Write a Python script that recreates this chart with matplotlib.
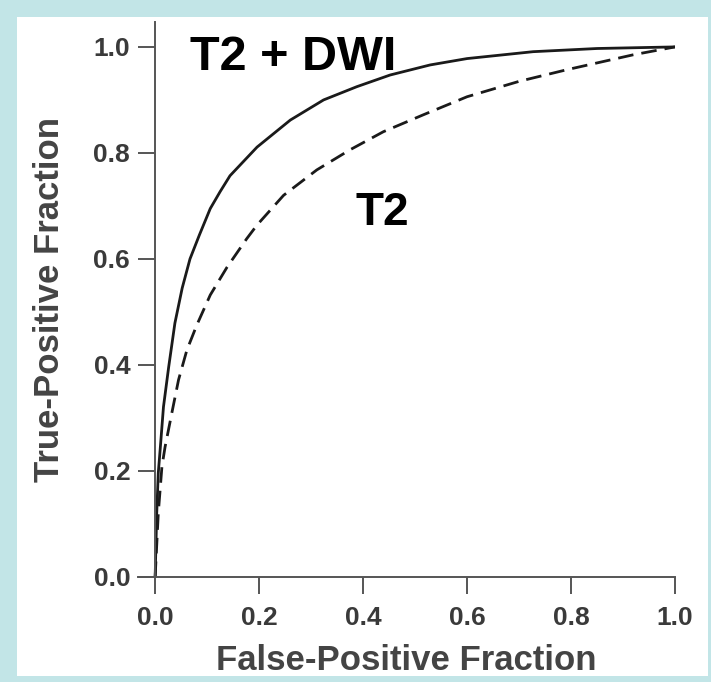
import matplotlib
matplotlib.use("agg")
import matplotlib.pyplot as plt
from matplotlib.patches import Rectangle

plt.rcParams['font.family'] = ['Liberation Sans', 'DejaVu Sans']
plt.rcParams['font.weight'] = 'bold'

# ROC curve points
fpr_dwi = [0, 0.003, 0.006, 0.010, 0.016, 0.026, 0.038, 0.052, 0.067, 0.085, 0.106,
           0.125, 0.144, 0.196, 0.26, 0.324, 0.388, 0.452, 0.529, 0.6, 0.727, 0.85, 1.0]
tpr_dwi = [0, 0.12, 0.196, 0.245, 0.321, 0.396, 0.479, 0.545, 0.60, 0.645, 0.695,
           0.727, 0.757, 0.811, 0.862, 0.90, 0.925, 0.947, 0.966, 0.978, 0.991, 0.997, 1.0]

fpr_t2 = [0, 0.006, 0.013, 0.019, 0.032, 0.045, 0.061, 0.080, 0.106, 0.138, 0.176,
          0.196, 0.247, 0.311, 0.375, 0.439, 0.516, 0.6, 0.7, 0.792, 0.919, 1.0]
tpr_t2 = [0, 0.12, 0.208, 0.245, 0.309, 0.372, 0.428, 0.475, 0.532, 0.584, 0.638,
          0.664, 0.72, 0.768, 0.806, 0.840, 0.872, 0.906, 0.935, 0.957, 0.985, 1.0]

ticks = [0.0, 0.2, 0.4, 0.6, 0.8, 1.0]
tick_labels = ['0.0', '0.2', '0.4', '0.6', '0.8', '1.0']

W, H = 711, 682
fig = plt.figure(figsize=(W/100, H/100), dpi=100)
fig.patch.set_facecolor('#c2e5e7')
fig.add_artist(Rectangle((17/W, 1-676/H), (708-17)/W, (676-17)/H,
                         transform=fig.transFigure, facecolor='white',
                         edgecolor='none', zorder=0))

ax = fig.add_axes([138/W, 1-577/H, 537/W, 555/H])
ax.set_facecolor('none')
ax.set_xlim(-0.033, 1.0)
ax.set_ylim(0, 1.047)

ax.plot(fpr_dwi, tpr_dwi, color='#1a1a1a', linewidth=2.0,
        solid_joinstyle='round', solid_capstyle='round')
ax.plot(fpr_t2, tpr_t2, color='#1a1a1a', linewidth=2.0, linestyle=(0, (5.6, 2.9)))

for s in ['top', 'right']:
    ax.spines[s].set_visible(False)
ax.spines['left'].set_position(('data', 0))
for s in ['left', 'bottom']:
    ax.spines[s].set_color('#555555')
    ax.spines[s].set_linewidth(1.4)

ax.set_xticks(ticks)
ax.set_xticklabels(tick_labels)
ax.set_yticks(ticks)
ax.set_yticklabels(tick_labels)
ax.tick_params(axis='both', direction='out', length=12, width=1.4, color='#555555',
               labelsize=19, labelcolor='#3a3a3a')
ax.tick_params(axis='x', pad=9)
ax.tick_params(axis='y', pad=6)

ax.set_xlabel('False-Positive Fraction', fontsize=25, fontweight='bold',
              color='#444444', labelpad=10)
ax.set_ylabel('True-Positive Fraction', fontsize=25, fontweight='bold',
              color='#444444', labelpad=20)

ax.text(0.067, 0.957, 'T2 + DWI', fontsize=35, color='black', fontweight='bold')
ax.text(0.385, 0.664, 'T2', fontsize=33, color='black', fontweight='bold')

fig.savefig('out.png', dpi=100)
